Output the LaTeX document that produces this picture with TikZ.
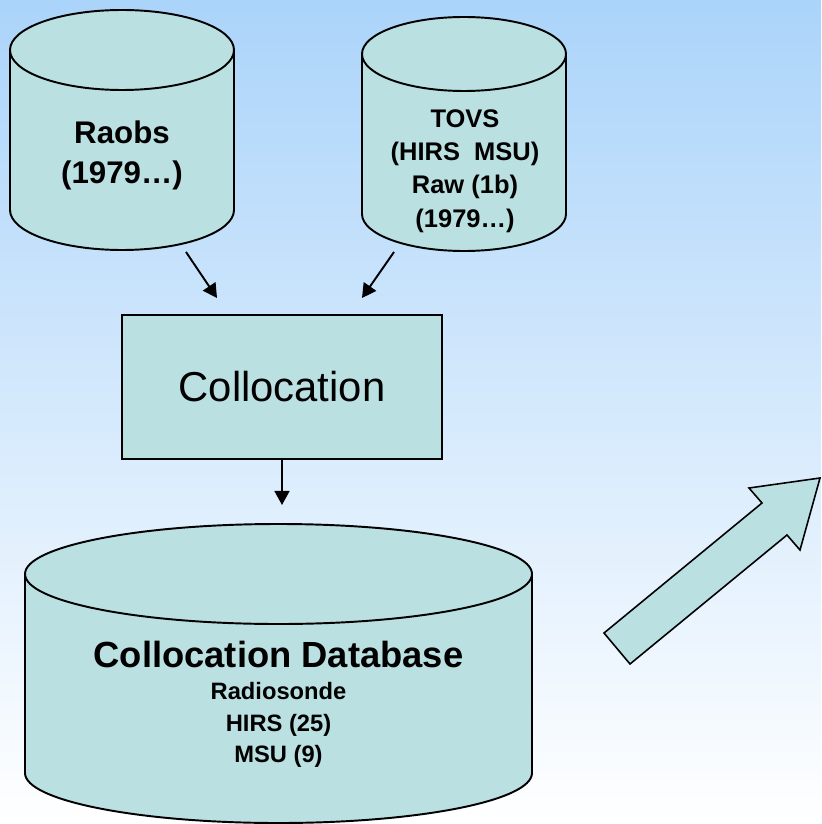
\documentclass[tikz,border=0pt]{standalone}
\usepackage{fontspec}
\setmainfont{Liberation Sans}
\usetikzlibrary{arrows.meta}
\definecolor{bgtop}{HTML}{ABD4FA}
\definecolor{bgmid}{HTML}{E0EDFC}
\definecolor{bgbot}{HTML}{FFFFFF}
\definecolor{drum}{HTML}{BAE0E2}
\tikzset{
  tank/.style={draw=black, fill=drum, line width=1.1pt, line join=round},
  tankrim/.style={draw=black, line width=1.1pt},
  block/.style={draw=black, fill=drum, line width=1.1pt, minimum width=6.4cm, minimum height=2.88cm, inner sep=0pt},
  flow/.style={draw=black, line width=1.1pt, -{Triangle[length=8pt,width=8.5pt]}},
  bigarr/.style={draw=black, fill=drum, line width=0.9pt, line join=miter},
  labbig/.style={align=center, font=\fontsize{17.8}{22.7}\selectfont\bfseries},
  labsmall/.style={align=center, font=\fontsize{14.5}{18.9}\selectfont\bfseries},
  labbox/.style={font=\fontsize{23.8}{28}\selectfont},
  labtitle/.style={font=\fontsize{20.7}{25}\selectfont\bfseries},
  labsub/.style={align=center, font=\fontsize{13.5}{17.8}\selectfont\bfseries},
}
% cx, top centre y, bottom centre y, rx, ry
\newcommand{\tank}[5]{%
  \draw[tank] (#1-#4,#2) -- (#1-#4,#3) arc (180:360:#4 and #5)
    -- (#1+#4,#2) arc (0:180:#4 and #5) -- cycle;
  \draw[tankrim] (#1-#4,#2) arc (180:360:#4 and #5);
}

\begin{document}
\begin{tikzpicture}[x=0.02cm, y=0.02cm]
  \shade[top color=bgtop, middle color=bgmid, bottom color=bgbot] (0,0) rectangle (821,-824);

  % source data
  \tank{122}{-50}{-210}{112}{40}
  \tank{464}{-54}{-214}{102}{37}
  \node[labbig] (raobs) at (122,-155) {Raobs\\(1979…)};
  \node[labsmall] (tovs) at (465,-171) {TOVS\\(HIRS\ \ MSU)\\Raw (1b)\\(1979…)};

  % collocation step
  \node[block] (coll) at (282,-387) {};
  \node[labbox] at (coll.center) {Collocation};

  \coordinate (raobs-out) at (186,-252);
  \coordinate (coll-inl) at (217,-298);
  \coordinate (tovs-out) at (394,-252);
  \coordinate (coll-inr) at (362,-298);
  \coordinate (cdb-in) at (282,-505);
  \draw[flow] (raobs-out) -- (coll-inl);
  \draw[flow] (tovs-out) -- (coll-inr);
  \draw[flow] (coll.south) -- (cdb-in);

  % database
  \tank{278.5}{-574}{-773}{253.5}{50}
  \node[labtitle] (cdb) at (278.5,-654) {Collocation Database};
  \node[labsub] (cdbsub) at (278.5,-725) {Radiosonde\\HIRS (25)\\MSU (9)};

  % outlook
  \draw[bigarr] (604,-633) -- (762,-503) -- (749,-488) -- (820,-478)
    -- (800,-550) -- (787,-535) -- (630,-664) -- cycle;
\end{tikzpicture}
\end{document}
